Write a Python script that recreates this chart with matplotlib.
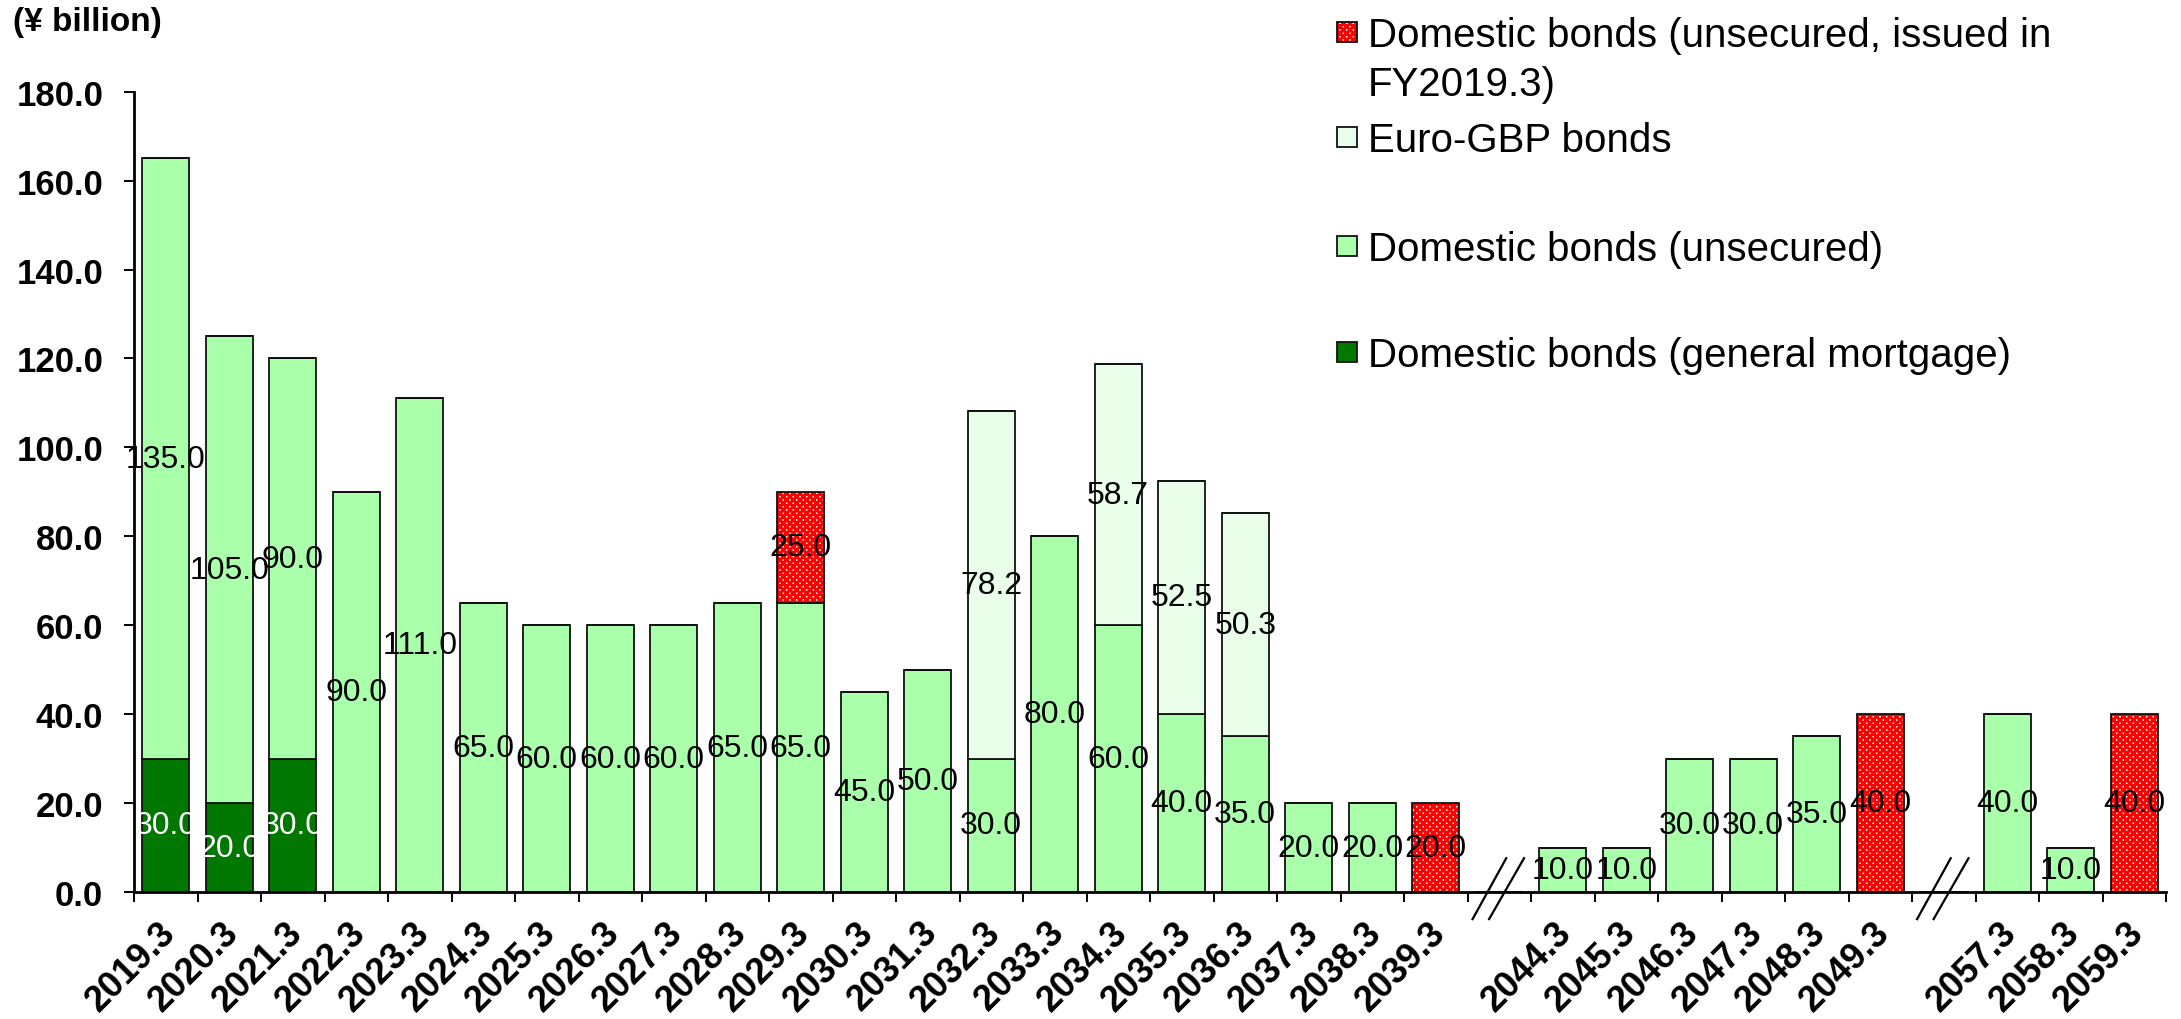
import matplotlib
matplotlib.use('Agg')
import matplotlib.pyplot as plt
import matplotlib.transforms as mtransforms
from matplotlib.patches import Rectangle
import numpy as np

plt.rcParams['font.family'] = ['Liberation Sans', 'DejaVu Sans']
plt.rcParams['hatch.linewidth'] = 2.2

# 償還年度（空文字は省略区間）
categories = ['2019.3', '2020.3', '2021.3', '2022.3', '2023.3', '2024.3', '2025.3',
              '2026.3', '2027.3', '2028.3', '2029.3', '2030.3', '2031.3', '2032.3',
              '2033.3', '2034.3', '2035.3', '2036.3', '2037.3', '2038.3', '2039.3',
              '',
              '2044.3', '2045.3', '2046.3', '2047.3', '2048.3', '2049.3',
              '',
              '2057.3', '2058.3', '2059.3']

mortgage = [30, 20, 30, 0, 0, 0, 0, 0, 0, 0, 0, 0, 0, 0, 0, 0, 0, 0, 0, 0, 0,
            0,
            0, 0, 0, 0, 0, 0,
            0,
            0, 0, 0]
unsecured = [135, 105, 90, 90, 111, 65, 60, 60, 60, 65, 65, 45, 50, 30, 80, 60, 40, 35, 20, 20, 0,
             0,
             10, 10, 30, 30, 35, 0,
             0,
             40, 10, 0]
euro_gbp = [0, 0, 0, 0, 0, 0, 0, 0, 0, 0, 0, 0, 0, 78.2, 0, 58.7, 52.5, 50.3, 0, 0, 0,
            0,
            0, 0, 0, 0, 0, 0,
            0,
            0, 0, 0]
issued_fy2019 = [0, 0, 0, 0, 0, 0, 0, 0, 0, 0, 25, 0, 0, 0, 0, 0, 0, 0, 0, 0, 20,
                 0,
                 0, 0, 0, 0, 0, 40,
                 0,
                 0, 0, 40]

legend_labels = ['Domestic bonds (unsecured, issued in\nFY2019.3)',
                 'Euro-GBP bonds',
                 'Domestic bonds (unsecured)',
                 'Domestic bonds (general mortgage)']

C_MORT = '#007800'
C_UNSEC = '#AAFFAA'
C_EURO = '#E9FFE9'
C_RED = '#FF0000'

W, H = 2181, 1020
fig = plt.figure(figsize=(W / 100, H / 100), dpi=100)
ax = fig.add_axes([134 / W, (H - 893) / H, (2166 - 134) / W, (893 - 92.7) / H])

x = np.arange(len(categories))
bw = 0.735
mortgage = np.array(mortgage, dtype=float)
unsecured = np.array(unsecured, dtype=float)
euro_gbp = np.array(euro_gbp, dtype=float)
issued_fy2019 = np.array(issued_fy2019, dtype=float)

b1 = mortgage
b2 = b1 + unsecured
b3 = b2 + euro_gbp

edge = dict(edgecolor='#111111', linewidth=1.3)
ax.bar(x, mortgage, bw, color=C_MORT, **edge)
ax.bar(x, unsecured, bw, bottom=b1, color=C_UNSEC, **edge)
ax.bar(x, euro_gbp, bw, bottom=b2, color=C_EURO, **edge)
# 網掛け部分：ハッチを赤で描いてから黒枠を重ねる
ax.bar(x, issued_fy2019, bw, bottom=b3, facecolor='white', edgecolor=C_RED,
       hatch='xxxxx', linewidth=0)
ax.bar(x, issued_fy2019, bw, bottom=b3, fill=False, **edge)

# 値ラベル（各区間の中央）
def put_labels(vals, bottoms, color):
    for xi, v, b in zip(x, vals, bottoms):
        if v > 0:
            ax.text(xi, b + v / 2, f'{v:.1f}', ha='center', va='center',
                    fontsize=23, color=color)

put_labels(mortgage, np.zeros(len(x)), 'white')
put_labels(unsecured, b1, 'black')
put_labels(euro_gbp, b2, 'black')
put_labels(issued_fy2019, b3, 'black')

# 軸
ax.set_xlim(-0.5, len(categories) - 0.5)
ax.set_ylim(0, 180)
ax.set_yticks(np.arange(0, 181, 20))
ax.set_yticklabels([f'{v:.1f}' for v in np.arange(0, 181, 20)],
                   fontsize=25, fontweight='bold')
ax.tick_params(axis='y', direction='out', length=7.2, width=1.4, pad=15)

label_idx = [i for i, c in enumerate(categories) if c]
ax.set_xticks(label_idx)
ax.set_xticklabels([categories[i] for i in label_idx], fontsize=26,
                   fontweight='bold', rotation=45, ha='right', va='center',
                   rotation_mode='anchor')
ax.set_xticks(np.arange(-0.5, len(categories)), minor=True)
ax.tick_params(axis='x', which='major', length=0, pad=25)
ax.tick_params(axis='x', which='minor', direction='out', length=7.2, width=1.4)
shift = mtransforms.ScaledTranslation(0.04, 0, fig.dpi_scale_trans)
for lab in ax.get_xticklabels():
    lab.set_transform(lab.get_transform() + shift)

for s in ['top', 'right']:
    ax.spines[s].set_visible(False)
for s in ['left', 'bottom']:
    ax.spines[s].set_linewidth(2.0)

# 省略記号 //
for gi, c in enumerate(categories):
    if c == '':
        for x0, x1 in [(-0.42, 0.11), (-0.16, 0.39)]:
            ax.plot([gi + x0, gi + x1], [-6.1, 7.6], color='black', lw=1.6,
                    clip_on=False, zorder=5)

fig.text(13 / W, 1 - 23 / H, '(¥ billion)', fontsize=24, fontweight='bold',
         va='center', ha='left')

# 凡例
legend_styles = [dict(facecolor='white', edgecolor=C_RED, hatch='xxxxx', linewidth=0),
                 dict(facecolor=C_EURO),
                 dict(facecolor=C_UNSEC),
                 dict(facecolor=C_MORT)]
row_y = [33, 138, 247, 353]
leg_fs = 29
line_gap = 49  # px
for lbl, st, ry in zip(legend_labels, legend_styles, row_y):
    r = Rectangle((1337 / W, 1 - (ry + 10) / H), 20 / W, 20 / H,
                  transform=fig.transFigure, **st)
    fig.add_artist(r)
    fig.add_artist(Rectangle((1337 / W, 1 - (ry + 10) / H), 20 / W, 20 / H,
                             transform=fig.transFigure, fill=False,
                             edgecolor='#111111', linewidth=1.3))
    # 各行のベースラインを行中心からキャップハイトの半分だけ下げる
    for k, line in enumerate(lbl.split('\n')):
        fig.text(1368 / W, 1 - (ry + k * line_gap) / H, line, fontsize=leg_fs,
                 va='baseline', ha='left',
                 transform=mtransforms.offset_copy(fig.transFigure, fig=fig,
                                                   y=-0.358 * leg_fs, units='points'))

fig.savefig('out.png', dpi=100)
